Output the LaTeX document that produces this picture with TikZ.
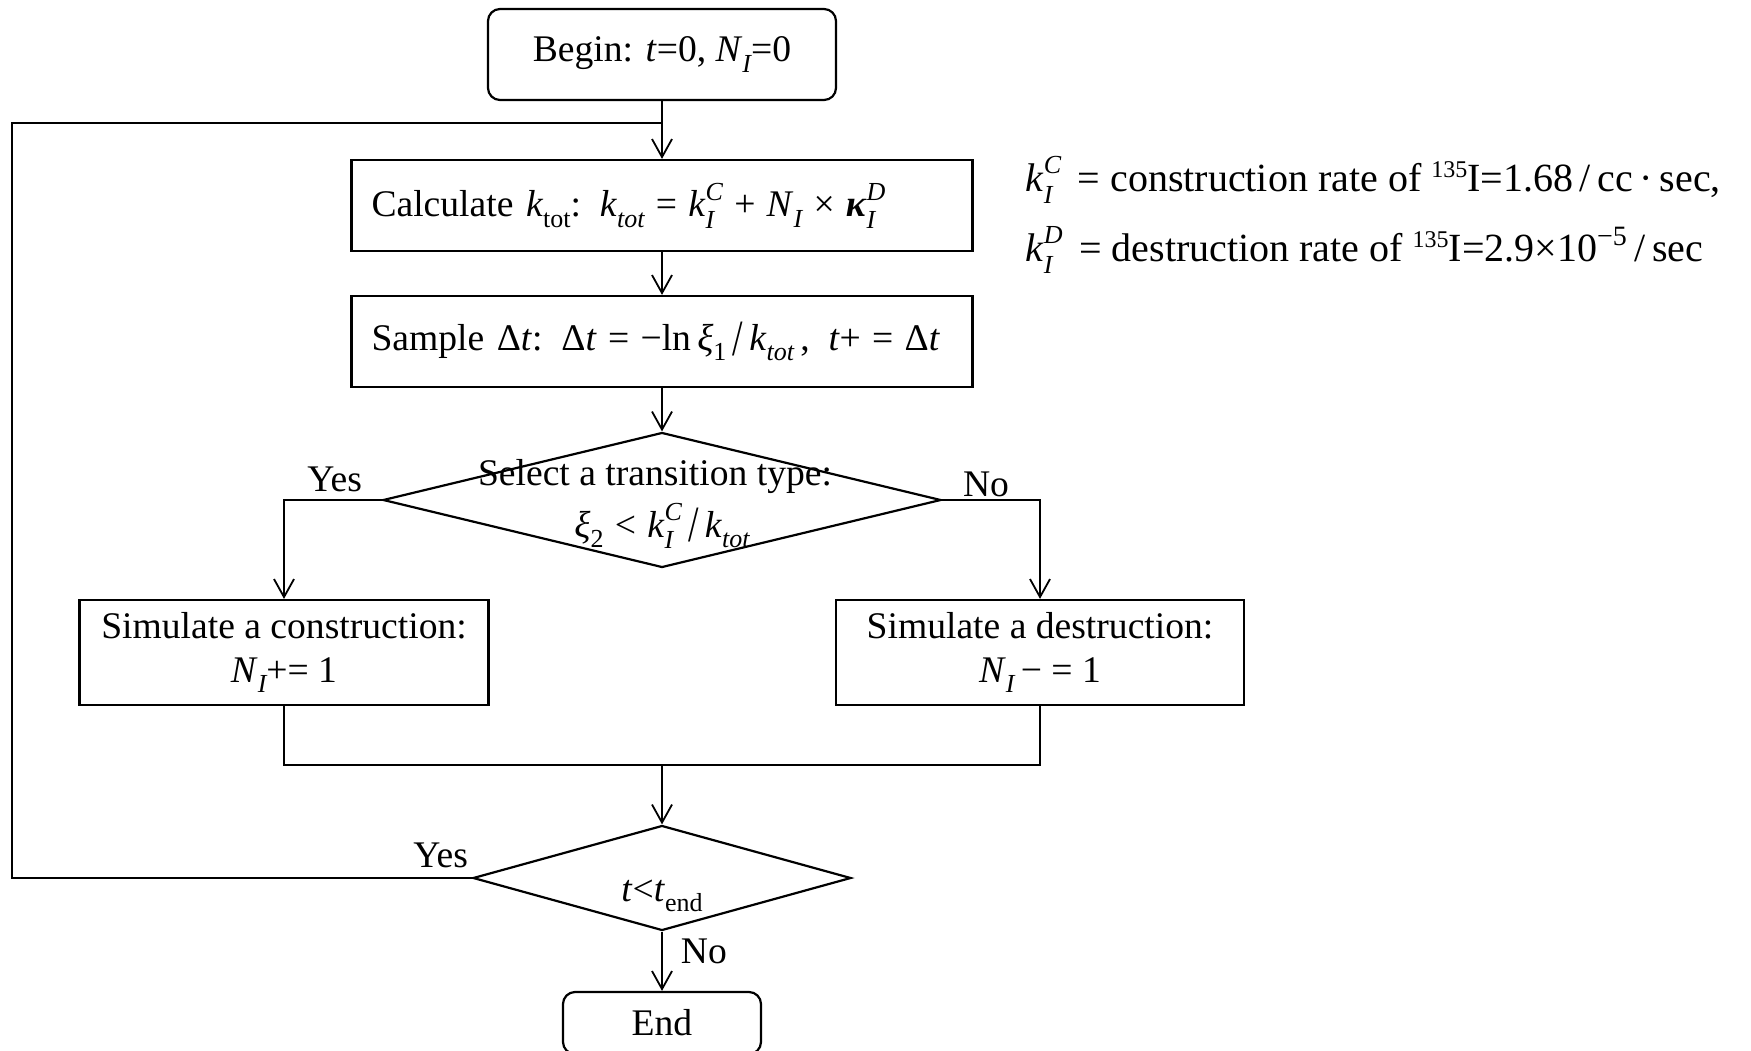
\documentclass[tikz,border=0pt]{standalone}
\usepackage{fontspec}
\setmainfont{Liberation Serif}
\usetikzlibrary{shapes.geometric,arrows.meta}
\newcommand{\scr}{\fontsize{13}{13}\selectfont}
\newcommand{\SB}[1]{\raisebox{-0.27em}{\scr #1}}
\newcommand{\SSP}[2]{{\setbox0=\hbox{\raisebox{0.45em}{\scr\itshape #2}}\setbox2=\hbox{\raisebox{-0.3em}{\scr\itshape #1}}\ifdim\wd0>\wd2 \rlap{\box2}\box0\else\rlap{\box0}\box2\fi}}
\newcommand{\BigSlash}{\raisebox{-0.12em}{\scalebox{1}[1.35]{/}}}
\newcommand{\Sp}{\hspace{0.3em}}
\newcommand{\DiaText}[2]{\makebox[0pt]{\smash{\raisebox{#1}{\begin{tabular}[b]{@{}c@{}}#2\end{tabular}}}}}
\begin{document}
\begin{tikzpicture}[x=0.5pt,y=-0.5pt,
  every node/.style={font=\fontsize{18.8}{21.8}\selectfont},
  box/.style={draw, line width=1.1pt, rectangle, inner sep=0pt},
  rbox/.style={box, rounded corners=6pt},
  dia/.style={draw, line width=1.1pt, diamond, inner sep=0pt},
  lbl/.style={inner sep=0pt},
  ann/.style={lbl, anchor=base west, font=\fontsize{20}{22}\selectfont},
  conn/.style={line width=0.9pt},
  arr/.style={conn, -{Straight Barb[length=9pt,width=10pt]}}]
\fill[white] (0,0) rectangle (1751,1050);
\useasboundingbox (0,0) rectangle (1751,1050);

\node[rbox, minimum width=174pt, minimum height=45.5pt] (begin) at (662,54.5)
  {Begin: \textit{t}=0, \textit{N}\SB{\itshape I}=0};
\node[box, text width=290.5pt, inner xsep=10pt, align=left, minimum height=45.5pt] (calc) at (662,205.5)
  {Calculate \textit{k}\SB{tot}:\hspace{0.5em}\textit{k}\SB{\itshape tot}\Sp=\Sp\textit{k}\SSP{I}{C}\Sp+\Sp\textit{N}\SB{\itshape I}\Sp×\Sp\textbf{\textit{κ}}\SSP{I}{D}};
\node[box, text width=290.5pt, inner xsep=10pt, align=left, minimum height=45.5pt] (samp) at (662,341.5)
  {Sample Δ\textit{t}: Δ\textit{t}\Sp=\Sp−ln\,\textit{ξ}\SB{1}\,\BigSlash\,\textit{k}\SB{\itshape tot}\,,\, \textit{t}+\Sp=\Sp Δ\textit{t}};
\node[dia, minimum width=279pt, minimum height=67.5pt] (d1) at (662,500)
  {\DiaText{-18.5pt}{\hspace*{-7pt}Select a transition type:\\[2pt] \textit{ξ}\SB{2}\Sp<\Sp\textit{k}\SSP{I}{C}\,\BigSlash\,\textit{k}\SB{\itshape tot}}};
\node[box, minimum width=204.5pt, minimum height=52.5pt, align=center] (cons) at (284,652.5)
  {Simulate a construction:\\ \textit{N}\SB{\itshape I}+= 1};
\node[box, minimum width=204pt, minimum height=52.5pt, align=center] (dest) at (1040,652.5)
  {Simulate a destruction:\\ \textit{N}\SB{\itshape I}\,− = 1};
\node[dia, minimum width=189pt, minimum height=52.5pt] (d2) at (662,878)
  {\DiaText{-11.5pt}{\textit{t}<\textit{t}\SB{end}}};
\node[rbox, minimum width=99pt, minimum height=31pt] (end) at (662,1023) {End};

\node[ann] (ann1) at (1025,191)
  {\textit{k}\SSP{I}{C}\, = construction rate of {\fontsize{12}{12}\selectfont\raisebox{0.55em}{135}}I=1.68\,/\,cc\,·\,sec,};
\node[ann] (ann2) at (1025,261)
  {\textit{k}\SSP{I}{D}\, = destruction rate of {\fontsize{12}{12}\selectfont\raisebox{0.55em}{135}}I=2.9×10\textsuperscript{−5}\,/\,sec};

\draw[arr] (begin.south) -- (calc.north);
\draw[arr] (calc.south) -- (samp.north);
\draw[arr] (samp.south) -- (d1.north);
\draw[arr] (d1.west) node[lbl, anchor=base east, xshift=-9.5pt, yshift=4.5pt] {Yes} -| (cons.north);
\draw[arr] (d1.east) node[lbl, anchor=base west, xshift=10pt, yshift=2pt] {No} -| (dest.north);
\coordinate (merge) at (662,765);
\draw[conn] (cons.south) |- (merge);
\draw[conn] (dest.south) |- (merge);
\draw[arr] (merge) -- (d2.north);
\coordinate (lb) at (12,878);
\coordinate (lt) at (12,123);
\draw[conn] (d2.west) node[lbl, anchor=base east, xshift=-1.5pt, yshift=5.5pt] {Yes} -- (lb) -- (lt) -- (lt -| begin.south);
\draw[arr] (d2.south) node[lbl, anchor=base west, xshift=9pt, yshift=-15.75pt] {No} -- (end.north);
\end{tikzpicture}
\end{document}
